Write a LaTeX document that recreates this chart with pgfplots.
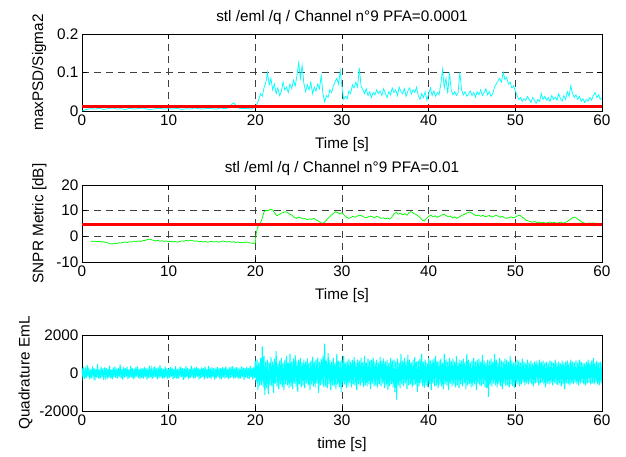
\documentclass[border=0pt]{standalone}
\usepackage{fontspec}
\setmainfont{Liberation Sans}
\usepackage{pgfplots}
\pgfplotsset{compat=1.18}
\definecolor{mcyan}{rgb}{0,1,1}
\definecolor{mgreen}{rgb}{0,1,0}
\newcommand{\ff}{\fontsize{15.3}{17}\selectfont}
\pgfplotsset{
  mstyle/.style={
    scale only axis, width=520pt, height=77pt,
    anchor=south west,
    xmin=0, xmax=60,
    xtick={0,10,20,30,40,50,60},
    xticklabels={0,10,20,30,40,50,60},
    tick align=inside,
    major tick length=5pt,
    tick style={black, line width=0.6pt},
    axis line style={black, line width=0.9pt},
    grid=major,
    major grid style={black!75, line width=0.6pt, dash pattern=on 7pt off 5pt},
    tick label style={font=\ff, text=black},
    label style={font=\ff},
    title style={font=\ff},
    xlabel shift=5pt,
    clip=true,
  }
}
\begin{document}
\begin{tikzpicture}
\path[use as bounding box] (0,0) rectangle (626pt,457pt);
% ---------------- top ----------------
\begin{axis}[mstyle, at={(82pt,346pt)},
  ymin=0, ymax=0.2, ytick={0,0.1,0.2}, yticklabels={0,0.1,0.2},
  title={stl /eml /q / Channel n°9 PFA=0.0001},
  xlabel={Time [s]}, ylabel={maxPSD/Sigma2}, ylabel shift=4pt]
\addplot[mcyan, line width=0.75pt] coordinates {
(0,0.000)(0.5,0.004)(1,0.006)(1.5,0.005)(2,0.007)(2.5,0.004)(3,0.006)(3.5,0.008)(4,0.005)(4.5,0.006)
(5,0.004)(5.5,0.007)(6,0.005)(6.5,0.006)(7,0.008)(7.5,0.005)(8,0.004)(8.5,0.006)(9,0.007)(9.5,0.005)
(10,0.006)(10.5,0.005)(11,0.007)(11.5,0.004)(12,0.006)(12.5,0.005)(13,0.008)(13.5,0.006)(14,0.005)(14.5,0.007)
(15,0.006)(15.5,0.005)(16,0.008)(16.5,0.006)(17,0.009)(17.3,0.018)(17.5,0.021)(17.7,0.016)(18,0.008)(18.5,0.006)(19,0.007)(19.5,0.005)
(20.0,0.010)(20.2,0.018)(20.4,0.030)(20.6,0.045)(20.8,0.038)(21.0,0.060)(21.2,0.072)(21.4,0.100)(21.6,0.068)(21.8,0.085)
(22.0,0.055)(22.2,0.070)(22.4,0.045)(22.6,0.060)(22.8,0.040)(23.0,0.050)(23.2,0.075)(23.4,0.055)(23.6,0.062)(23.8,0.048)
(24.0,0.070)(24.2,0.058)(24.4,0.080)(24.6,0.065)(24.8,0.092)(25.0,0.125)(25.2,0.085)(25.4,0.118)(25.6,0.072)(25.8,0.050)
(26.0,0.068)(26.2,0.055)(26.4,0.075)(26.6,0.045)(26.8,0.062)(27.0,0.052)(27.2,0.070)(27.4,0.058)(27.6,0.092)(27.8,0.045)
(28.0,0.024)(28.2,0.040)(28.4,0.035)(28.6,0.055)(28.8,0.048)(29.0,0.065)(29.2,0.075)(29.4,0.085)(29.6,0.070)(29.8,0.105)
(30.0,0.060)(30.2,0.030)(30.4,0.038)(30.6,0.032)(30.8,0.052)(31.0,0.045)(31.2,0.068)(31.4,0.060)(31.6,0.075)(31.8,0.062)
(32.0,0.112)(32.2,0.065)(32.4,0.055)(32.6,0.045)(32.8,0.058)(33.0,0.040)(33.2,0.050)(33.4,0.035)(33.6,0.048)(33.8,0.042)
(34.0,0.055)(34.2,0.045)(34.4,0.052)(34.6,0.040)(34.8,0.058)(35.0,0.046)(35.2,0.035)(35.4,0.050)(35.6,0.042)(35.8,0.060)
(36.0,0.048)(36.2,0.055)(36.4,0.040)(36.6,0.062)(36.8,0.050)(37.0,0.045)(37.2,0.058)(37.4,0.038)(37.6,0.052)(37.8,0.060)
(38.0,0.044)(38.2,0.055)(38.4,0.048)(38.6,0.062)(38.8,0.040)(39.0,0.030)(39.2,0.045)(39.4,0.035)(39.6,0.050)(39.8,0.028)
(40.0,0.045)(40.2,0.060)(40.4,0.040)(40.6,0.052)(40.8,0.038)(41.0,0.048)(41.2,0.042)(41.4,0.070)(41.6,0.108)(41.8,0.060)
(42.0,0.085)(42.2,0.045)(42.4,0.100)(42.6,0.055)(42.8,0.042)(43.0,0.050)(43.2,0.040)(43.4,0.048)(43.6,0.100)(43.8,0.055)
(44.0,0.042)(44.2,0.050)(44.4,0.038)(44.6,0.045)(44.8,0.052)(45.0,0.040)(45.2,0.048)(45.4,0.036)(45.6,0.050)(45.8,0.042)
(46.0,0.055)(46.2,0.040)(46.4,0.048)(46.6,0.058)(46.8,0.042)(47.0,0.050)(47.2,0.038)(47.4,0.046)(47.6,0.062)(47.8,0.070)
(48.0,0.078)(48.2,0.085)(48.4,0.075)(48.6,0.100)(48.8,0.082)(49.0,0.088)(49.2,0.070)(49.4,0.075)(49.6,0.060)(49.8,0.065)
(50.0,0.052)(50.2,0.040)(50.4,0.030)(50.6,0.035)(50.8,0.025)(51.0,0.032)(51.2,0.028)(51.4,0.038)(51.6,0.030)(51.8,0.022)
(52.0,0.035)(52.2,0.028)(52.4,0.020)(52.6,0.030)(52.8,0.025)(53.0,0.045)(53.2,0.030)(53.4,0.038)(53.6,0.028)(53.8,0.035)
(54.0,0.025)(54.2,0.040)(54.4,0.030)(54.6,0.036)(54.8,0.028)(55.0,0.045)(55.2,0.032)(55.4,0.026)(55.6,0.040)(55.8,0.030)
(56.0,0.050)(56.2,0.038)(56.4,0.065)(56.6,0.045)(56.8,0.035)(57.0,0.042)(57.2,0.030)(57.4,0.038)(57.6,0.025)(57.8,0.032)
(58.0,0.022)(58.2,0.030)(58.4,0.026)(58.6,0.035)(58.8,0.028)(59.0,0.040)(59.2,0.048)(59.4,0.035)(59.6,0.042)(59.8,0.030)(60.0,0.035)
};
\addplot[red, line width=3.6pt] coordinates {(0,0.012)(60,0.012)};
\end{axis}
% ---------------- middle ----------------
\begin{axis}[mstyle, at={(82pt,195pt)},
  ymin=-10, ymax=20, ytick={-10,0,10,20}, yticklabels={-10,0,10,20},
  title={stl /eml /q / Channel n°9 PFA=0.01},
  xlabel={Time [s]}, ylabel={SNPR Metric [dB]}, ylabel shift=3pt]
\addplot[mgreen, line width=0.75pt] coordinates {
(1.0,-1.8)(1.25,-2.0)(1.5,-1.9)(1.75,-2.1)(2.0,-2.0)(2.25,-2.2)(2.5,-2.1)(2.75,-2.4)(3.0,-2.6)(3.25,-2.9)
(3.5,-3.0)(3.75,-2.7)(4.0,-2.8)(4.25,-2.5)(4.5,-2.6)(4.75,-2.3)(5.0,-2.2)(5.25,-2.4)(5.5,-2.1)(5.75,-2.2)
(6.0,-1.9)(6.25,-2.0)(6.5,-1.8)(6.75,-2.0)(7.0,-1.7)(7.25,-1.6)(7.5,-1.3)(7.75,-1.1)(8.0,-1.3)(8.25,-1.6)
(8.5,-1.8)(8.75,-1.6)(9.0,-1.9)(9.25,-1.7)(9.5,-2.0)(9.75,-1.8)(10.0,-2.1)(10.25,-1.9)(10.5,-2.2)(10.75,-2.0)
(11.0,-2.3)(11.25,-2.0)(11.5,-1.8)(11.75,-1.9)(12.0,-1.6)(12.25,-1.8)(12.5,-1.5)(12.75,-1.7)(13.0,-1.9)(13.25,-1.8)
(13.5,-2.1)(13.75,-2.0)(14.0,-2.2)(14.25,-2.0)(14.5,-2.3)(14.75,-2.1)(15.0,-1.9)(15.25,-2.2)(15.5,-2.0)(15.75,-2.3)
(16.0,-2.1)(16.25,-1.8)(16.5,-2.0)(16.75,-2.2)(17.0,-2.0)(17.25,-2.3)(17.5,-2.1)(17.75,-2.4)(18.0,-2.2)(18.25,-2.5)
(18.5,-2.3)(18.75,-2.4)(19.0,-2.2)(19.25,-2.5)(19.5,-2.6)(19.75,-2.8)(20.0,-2.5)(20.1,1.0)(20.25,3.5)(20.5,4.5)
(20.75,6.5)(21.0,9.5)(21.25,10.2)(21.5,10.0)(21.75,10.6)(22.0,10.3)(22.25,9.0)(22.5,8.0)(22.75,8.5)(23.0,9.0)
(23.25,9.3)(23.5,9.6)(23.75,9.2)(24.0,8.6)(24.25,8.2)(24.5,7.3)(24.75,7.0)(25.0,7.5)(25.25,7.2)(25.5,6.8)
(25.75,6.9)(26.0,6.5)(26.25,6.8)(26.5,6.6)(26.75,7.0)(27.0,6.4)(27.25,6.0)(27.5,5.4)(27.75,5.0)(28.0,5.6)
(28.25,6.5)(28.5,7.4)(28.75,8.2)(29.0,9.0)(29.25,9.6)(29.5,9.2)(29.75,8.8)(30.0,9.2)(30.25,8.3)(30.5,7.5)
(30.75,7.0)(31.0,7.3)(31.25,7.8)(31.5,7.4)(31.75,7.9)(32.0,8.2)(32.25,8.0)(32.5,7.6)(32.75,7.2)(33.0,7.5)
(33.25,7.9)(33.5,7.6)(33.75,7.3)(34.0,7.8)(34.25,7.5)(34.5,7.0)(34.75,7.2)(35.0,6.8)(35.25,7.1)(35.5,6.7)
(35.75,7.5)(36.0,8.8)(36.25,9.3)(36.5,8.6)(36.75,9.0)(37.0,8.4)(37.25,8.8)(37.5,8.2)(37.75,9.3)(38.0,9.6)
(38.25,9.0)(38.5,8.6)(38.75,8.0)(39.0,7.3)(39.25,6.3)(39.5,6.0)(39.75,7.0)(40.0,7.8)(40.25,8.2)(40.5,7.6)
(40.75,8.0)(41.0,7.4)(41.25,7.8)(41.5,8.3)(41.75,8.6)(42.0,8.1)(42.25,7.6)(42.5,7.9)(42.75,7.2)(43.0,7.6)
(43.25,7.0)(43.5,7.5)(43.75,8.0)(44.0,8.4)(44.25,8.8)(44.5,9.2)(44.75,9.5)(45.0,9.0)(45.25,8.4)(45.5,8.0)
(45.75,8.3)(46.0,7.8)(46.25,8.2)(46.5,7.6)(46.75,7.9)(47.0,8.1)(47.25,7.5)(47.5,7.8)(47.75,8.2)(48.0,7.9)
(48.25,7.4)(48.5,7.8)(48.75,7.2)(49.0,7.0)(49.25,7.3)(49.5,7.6)(49.75,7.2)(50.0,7.5)(50.25,8.0)(50.5,8.2)
(50.75,7.6)(51.0,7.0)(51.25,6.3)(51.5,6.0)(51.75,5.7)(52.0,5.5)(52.25,5.8)(52.5,5.3)(52.75,5.6)(53.0,5.2)
(53.25,5.5)(53.5,5.0)(53.75,5.4)(54.0,5.6)(54.25,5.2)(54.5,5.5)(54.75,5.0)(55.0,5.3)(55.25,5.6)(55.5,5.1)
(55.75,5.4)(56.0,5.8)(56.25,6.4)(56.5,7.0)(56.75,7.5)(57.0,7.2)(57.25,6.6)(57.5,6.0)(57.75,5.4)(58.0,5.1)
(58.25,5.0)(58.5,5.2)(58.75,5.1)(59.0,5.2)(59.25,5.0)(59.5,5.1)
};
\addplot[red, line width=3.6pt] coordinates {(0,4.6)(60,4.6)};
\end{axis}
% ---------------- bottom ----------------
\begin{axis}[mstyle, at={(82pt,46pt)}, height=76pt,
  ymin=-2000, ymax=2000, ytick={-2000,0,2000}, yticklabels={-2000,0,2000},
  xlabel={time [s]}, ylabel={Quadrature EmL}]
\addplot[mcyan, line width=1pt] coordinates {
(0.0,250)(0.1,-180)(0.2,300)(0.3,-320)(0.4,150)(0.5,-260)(0.6,420)(0.7,-200)(0.8,280)(0.9,-340)
(1.0,190)(1.1,-270)(1.2,350)(1.3,-150)(1.4,260)(1.5,-380)(1.6,220)(1.7,-240)(1.8,480)(1.9,-300)
(2.0,170)(2.1,-290)(2.2,330)(2.3,-210)(2.4,240)(2.5,-360)(2.6,300)(2.7,-170)(2.8,260)(2.9,-310)
(3.0,210)(3.1,-250)(3.2,370)(3.3,-280)(3.4,180)(3.5,-330)(3.6,290)(3.7,-220)(3.8,340)(3.9,-260)
(4.0,230)(4.1,-300)(4.2,270)(4.3,-190)(4.4,450)(4.5,-280)(4.6,200)(4.7,-350)(4.8,310)(4.9,-240)
(5.0,260)(5.1,-200)(5.2,330)(5.3,-310)(5.4,190)(5.5,-270)(5.6,360)(5.7,-230)(5.8,250)(5.9,-340)
(6.0,220)(6.1,-280)(6.2,300)(6.3,-190)(6.4,340)(6.5,-260)(6.6,210)(6.7,-320)(6.8,280)(6.9,-250)
(7.0,240)(7.1,-290)(7.2,320)(7.3,-200)(7.4,260)(7.5,-350)(7.6,230)(7.7,-270)(7.8,380)(7.9,-220)
(8.0,190)(8.1,-310)(8.2,290)(8.3,-260)(8.4,350)(8.5,-200)(8.6,240)(8.7,-330)(8.8,300)(8.9,-270)
(9.0,400)(9.1,-240)(9.2,270)(9.3,-300)(9.4,210)(9.5,-280)(9.6,330)(9.7,-230)(9.8,260)(9.9,-320)
(10.0,230)(10.1,-260)(10.2,310)(10.3,-190)(10.4,280)(10.5,-340)(10.6,220)(10.7,-250)(10.8,360)(10.9,-290)
(11.0,200)(11.1,-310)(11.2,290)(11.3,-240)(11.4,330)(11.5,-200)(11.6,260)(11.7,-360)(11.8,240)(11.9,-280)
(12.0,350)(12.1,-230)(12.2,270)(12.3,-320)(12.4,200)(12.5,-260)(12.6,390)(12.7,-210)(12.8,250)(12.9,-300)
(13.0,280)(13.1,-250)(13.2,320)(13.3,-190)(13.4,270)(13.5,-340)(13.6,230)(13.7,-280)(13.8,300)(13.9,-220)
(14.0,260)(14.1,-330)(14.2,340)(14.3,-240)(14.4,210)(14.5,-290)(14.6,370)(14.7,-260)(14.8,240)(14.9,-310)
(15.0,300)(15.1,-220)(15.2,260)(15.3,-350)(15.4,230)(15.5,-270)(15.6,320)(15.7,-200)(15.8,280)(15.9,-300)
(16.0,250)(16.1,-340)(16.2,310)(16.3,-230)(16.4,270)(16.5,-280)(16.6,350)(16.7,-240)(16.8,220)(16.9,-320)
(17.0,290)(17.1,-260)(17.2,330)(17.3,-210)(17.4,360)(17.5,-300)(17.6,240)(17.7,-270)(17.8,310)(17.9,-250)
(18.0,280)(18.1,-330)(18.2,230)(18.3,-290)(18.4,340)(18.5,-220)(18.6,300)(18.7,-360)(18.8,260)(18.9,-240)
(19.0,320)(19.1,-280)(19.2,250)(19.3,-310)(19.4,380)(19.5,-230)(19.6,270)(19.7,-340)(19.8,300)(19.9,-260)
(20.0,650)(20.1,-500)(20.2,720)(20.3,-900)(20.4,560)(20.5,-680)(20.6,800)(20.7,-620)(20.8,1400)(20.9,-750)
(21.0,900)(21.1,-1150)(21.2,600)(21.3,-800)(21.4,700)(21.5,-1100)(21.6,550)(21.7,-650)(21.8,850)(21.9,-700)
(22.0,600)(22.1,-1050)(22.2,750)(22.3,-550)(22.4,1150)(22.5,-700)(22.6,500)(22.7,-850)(22.8,650)(22.9,-600)
(23.0,800)(23.1,-750)(23.2,550)(23.3,-900)(23.4,700)(23.5,-600)(23.6,900)(23.7,-650)(23.8,550)(23.9,-800)
(24.0,1000)(24.1,-700)(24.2,600)(24.3,-850)(24.4,750)(24.5,-550)(24.6,950)(24.7,-700)(24.8,650)(24.9,-1000)
(25.0,700)(25.1,-600)(25.2,800)(25.3,-750)(25.4,550)(25.5,-650)(25.6,700)(25.7,-800)(25.8,600)(25.9,-550)
(26.0,750)(26.1,-650)(26.2,550)(26.3,-900)(26.4,650)(26.5,-600)(26.6,850)(26.7,-700)(26.8,600)(26.9,-750)
(27.0,700)(27.1,-550)(27.2,800)(27.3,-1050)(27.4,600)(27.5,-650)(27.6,750)(27.7,-600)(27.8,900)(27.9,-750)
(28.0,1550)(28.1,-700)(28.2,650)(28.3,-800)(28.4,1050)(28.5,-600)(28.6,700)(28.7,-900)(28.8,600)(28.9,-650)
(29.0,800)(29.1,-700)(29.2,550)(29.3,-850)(29.4,1000)(29.5,-600)(29.6,650)(29.7,-750)(29.8,600)(29.9,-1000)
(30.0,700)(30.1,-650)(30.2,900)(30.3,-600)(30.4,550)(30.5,-800)(30.6,650)(30.7,-700)(30.8,750)(30.9,-550)
(31.0,600)(31.1,-750)(31.2,700)(31.3,-600)(31.4,850)(31.5,-650)(31.6,550)(31.7,-900)(31.8,700)(31.9,-600)
(32.0,650)(32.1,-700)(32.2,800)(32.3,-550)(32.4,600)(32.5,-750)(32.6,900)(32.7,-650)(32.8,550)(32.9,-700)
(33.0,750)(33.1,-600)(33.2,650)(33.3,-850)(33.4,700)(33.5,-550)(33.6,800)(33.7,-700)(33.8,600)(33.9,-650)
(34.0,700)(34.1,-750)(34.2,550)(34.3,-600)(34.4,850)(34.5,-700)(34.6,650)(34.7,-550)(34.8,750)(34.9,-800)
(35.0,600)(35.1,-650)(35.2,700)(35.3,-900)(35.4,550)(35.5,-700)(35.6,800)(35.7,-600)(35.8,650)(35.9,-750)
(36.0,700)(36.1,-1000)(36.2,600)(36.3,-1400)(36.4,750)(36.5,-650)(36.6,550)(36.7,-800)(36.8,1000)(36.9,-600)
(37.0,650)(37.1,-700)(37.2,800)(37.3,-550)(37.4,600)(37.5,-850)(37.6,950)(37.7,-650)(37.8,700)(37.9,-600)
(38.0,550)(38.1,-750)(38.2,700)(38.3,-650)(38.4,850)(38.5,-600)(38.6,600)(38.7,-1000)(38.8,650)(38.9,-700)
(39.0,750)(39.1,-550)(39.2,1000)(39.3,-700)(39.4,600)(39.5,-800)(39.6,700)(39.7,-650)(39.8,550)(39.9,-750)
(40.0,800)(40.1,-600)(40.2,650)(40.3,-900)(40.4,700)(40.5,-550)(40.6,750)(40.7,-700)(40.8,900)(40.9,-650)
(41.0,600)(41.1,-800)(41.2,650)(41.3,-600)(41.4,750)(41.5,-700)(41.6,550)(41.7,-850)(41.8,1000)(41.9,-600)
(42.0,700)(42.1,-650)(42.2,600)(42.3,-900)(42.4,800)(42.5,-550)(42.6,650)(42.7,-700)(42.8,750)(42.9,-600)
(43.0,600)(43.1,-750)(43.2,900)(43.3,-650)(43.4,550)(43.5,-800)(43.6,700)(43.7,-600)(43.8,650)(43.9,-700)
(44.0,750)(44.1,-550)(44.2,600)(44.3,-850)(44.4,1000)(44.5,-650)(44.6,700)(44.7,-600)(44.8,550)(44.9,-750)
(45.0,650)(45.1,-700)(45.2,800)(45.3,-600)(45.4,600)(45.5,-900)(45.6,700)(45.7,-550)(45.8,750)(45.9,-650)
(46.0,600)(46.1,-700)(46.2,950)(46.3,-600)(46.4,650)(46.5,-750)(46.6,550)(46.7,-800)(46.8,700)(46.9,-1250)
(47.0,650)(47.1,-600)(47.2,750)(47.3,-700)(47.4,600)(47.5,-550)(47.6,1000)(47.7,-650)(47.8,700)(47.9,-750)
(48.0,550)(48.1,-600)(48.2,800)(48.3,-700)(48.4,650)(48.5,-850)(48.6,600)(48.7,-550)(48.8,750)(48.9,-700)
(49.0,700)(49.1,-650)(49.2,600)(49.3,-750)(49.4,900)(49.5,-600)(49.6,650)(49.7,-700)(49.8,550)(49.9,-800)
(50.0,600)(50.1,-550)(50.2,700)(50.3,-600)(50.4,650)(50.5,-700)(50.6,550)(50.7,-600)(50.8,750)(50.9,-500)
(51.0,600)(51.1,-650)(51.2,500)(51.3,-550)(51.4,700)(51.5,-600)(51.6,550)(51.7,-500)(51.8,650)(51.9,-600)
(52.0,500)(52.1,-700)(52.2,600)(52.3,-550)(52.4,650)(52.5,-500)(52.6,550)(52.7,-650)(52.8,700)(52.9,-550)
(53.0,600)(53.1,-500)(53.2,650)(53.3,-600)(53.4,550)(53.5,-750)(53.6,600)(53.7,-550)(53.8,500)(53.9,-600)
(54.0,650)(54.1,-550)(54.2,600)(54.3,-650)(54.4,550)(54.5,-500)(54.6,700)(54.7,-600)(54.8,550)(54.9,-650)
(55.0,600)(55.1,-550)(55.2,500)(55.3,-700)(55.4,650)(55.5,-600)(55.6,550)(55.7,-850)(55.8,600)(55.9,-550)
(56.0,650)(56.1,-600)(56.2,550)(56.3,-650)(56.4,700)(56.5,-550)(56.6,600)(56.7,-600)(56.8,550)(56.9,-500)
(57.0,650)(57.1,-600)(57.2,550)(57.3,-650)(57.4,700)(57.5,-550)(57.6,600)(57.7,-500)(57.8,550)(57.9,-600)
(58.0,500)(58.1,-650)(58.2,600)(58.3,-550)(58.4,700)(58.5,-500)(58.6,550)(58.7,-600)(58.8,650)(58.9,-550)
(59.0,800)(59.1,-600)(59.2,550)(59.3,-500)(59.4,650)(59.5,-600)(59.6,550)(59.7,-650)(59.8,600)(59.9,-550)(60.0,500)
};
\end{axis}
\end{tikzpicture}
\end{document}
